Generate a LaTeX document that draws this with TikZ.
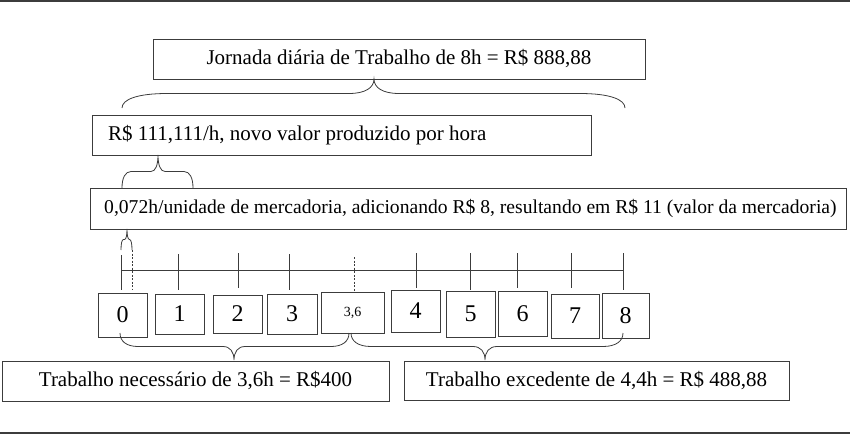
\documentclass[tikz,border=0pt]{standalone}
\usepackage{fontspec}
\setmainfont{Liberation Serif}
\definecolor{ln}{HTML}{3C3C3C}
% x1, x2, y of ends, y of tip, x of tip, end-curve width, tip-curve width
\newcommand\bracedraw[7]{%
  \draw[brc] (#1,#3) .. controls (#1,{#3+0.6*((#3+#4)/2-#3)}) and ({#1+0.35*#6},{(#3+#4)/2}) .. ({#1+#6},{(#3+#4)/2})
   -- ({#5-#7},{(#3+#4)/2}) .. controls ({#5-0.35*#7},{(#3+#4)/2}) and (#5,{(#3+#4)/2+0.4*(#4-(#3+#4)/2)}) .. (#5,#4)
   .. controls (#5,{(#3+#4)/2+0.4*(#4-(#3+#4)/2)}) and ({#5+0.35*#7},{(#3+#4)/2}) .. ({#5+#7},{(#3+#4)/2})
   -- ({#2-#6},{(#3+#4)/2}) .. controls ({#2-0.35*#6},{(#3+#4)/2}) and (#2,{#3+0.6*((#3+#4)/2-#3)}) .. (#2,#3);%
}
\begin{document}
\begin{tikzpicture}[x=1pt,y=-1pt,
  box/.style={draw=ln, line width=0.9pt, inner sep=0pt},
  txt/.style={font=\fontsize{21}{25}\selectfont},
  num/.style={box, font=\fontsize{24}{28}\selectfont},
  brc/.style={draw=ln, line width=0.8pt},
  tk/.style={draw=ln, line width=0.8pt},
  dsh/.style={draw=ln, line width=0.8pt, dash pattern=on 2pt off 1.5pt},
  frame/.style={draw=ln, line width=1.6pt}]
\useasboundingbox (0,0) rectangle (850,434);
\draw[frame] (0,0.8) -- (850,0.8);
\draw[frame] (0,433.2) -- (850,433.2);

% top boxes
\node[box, txt, minimum width=492pt, minimum height=40pt] (jor) at (399,59) {Jornada diária de Trabalho de 8h = R\$ 888,88};
\node[box, minimum width=499pt, minimum height=40pt] (hora) at (341.5,135) {};
\node[txt, anchor=west, inner sep=0pt] (horat) at (108,135) {R\$ 111,111/h, novo valor produzido por hora};
\node[box, minimum width=756pt, minimum height=41pt] (merc) at (468,208.5) {};
\node[font=\fontsize{19.6}{23}\selectfont, anchor=west, inner sep=0pt] (merct) at (104,208.5) {0,072h/unidade de mercadoria, adicionando R\$ 8, resultando em R\$ 11 (valor da mercadoria)};

% braces
\bracedraw{122}{625}{108}{79}{374}{45}{25}
\bracedraw{122}{193}{188}{155}{158}{9}{7}
\bracedraw{121}{132}{250}{229}{127}{2.5}{2.5}
\bracedraw{120}{349}{333}{360}{234}{18}{11}
\bracedraw{351}{623}{333}{360}{485}{20}{12}

% timeline
\coordinate (t0) at (121,270);
\coordinate (t8) at (623,270);
\draw[tk] (t0) -- (t8);
\foreach \x/\a/\b in {121/255/290, 178/254/290, 238/253/288, 289/254/290, 416/253/288, 470/253/290, 517/253/288, 571/253/288, 623/253/290}
  \draw[tk] (\x,\a) -- (\x,\b);
\draw[dsh] (132,250) -- (132,290);

% number boxes
\node[num, minimum width=49pt, minimum height=44pt] (n0) at (122.5,315) {0};
\node[num, minimum width=49pt, minimum height=40pt] (n1) at (179.5,314) {1};
\node[num, minimum width=49pt, minimum height=38pt] (n2) at (237.5,314) {2};
\node[num, minimum width=50pt, minimum height=40pt] (n3) at (292,314) {3};
\node[box, minimum width=63pt, minimum height=41pt, font=\fontsize{14}{16}\selectfont] (n36) at (352.5,312.5) {3,6};
\node[num, minimum width=49pt, minimum height=42pt] (n4) at (415.5,311) {4};
\node[num, minimum width=49pt, minimum height=46pt] (n5) at (470.5,314) {5};
\node[num, minimum width=49pt, minimum height=45pt] (n6) at (522.5,313.5) {6};
\node[num, minimum width=48pt, minimum height=44pt] (n7) at (575,316) {7};
\node[num, minimum width=47pt, minimum height=45pt] (n8) at (625.5,315.5) {8};
\coordinate (d36) at (354,257);
\draw[dsh] (d36) -- (d36 |- n36.north);

% bottom boxes
\node[box, txt, minimum width=387pt, minimum height=40pt] (nec) at (195.5,381) {Trabalho necessário de 3,6h = R\$400};
\node[box, txt, minimum width=385pt, minimum height=39pt] (exc) at (596.5,380.5) {Trabalho excedente de 4,4h = R\$ 488,88};
\end{tikzpicture}
\end{document}
